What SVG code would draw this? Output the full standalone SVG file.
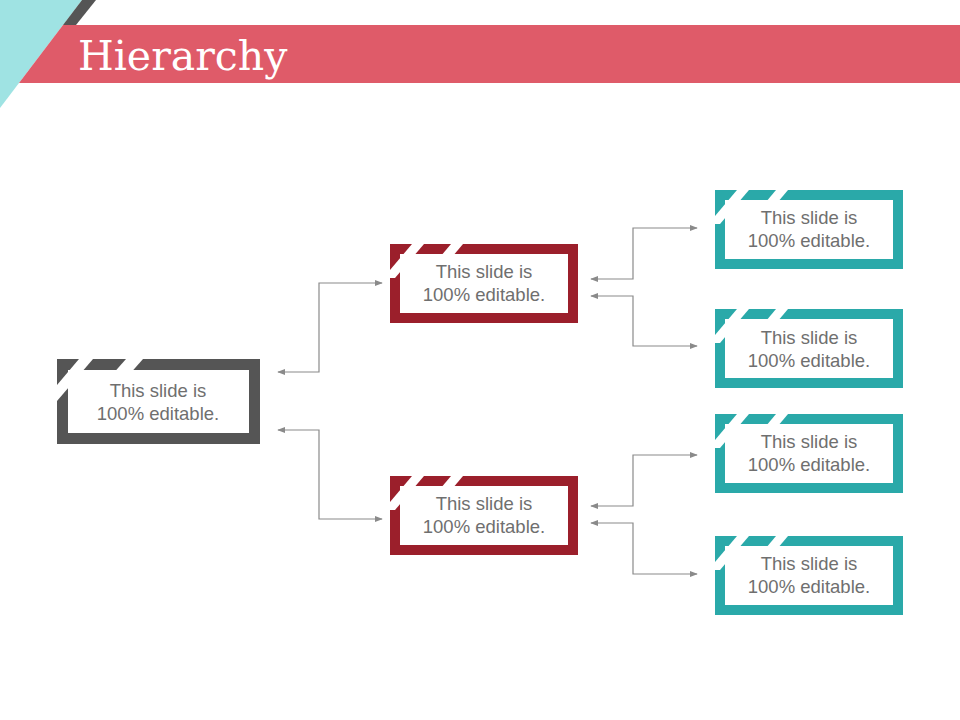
<svg xmlns="http://www.w3.org/2000/svg" width="960" height="720" viewBox="0 0 960 720">
<defs>
<style>
.t{font-family:"Liberation Sans",Arial,sans-serif;font-size:18.5px;fill:#6f6f6f;text-anchor:middle}
.c{fill:none;stroke:#8a8a8a;stroke-width:1.2}
.w{fill:#fff}
</style>
<marker id="a" viewBox="0 0 10 10" refX="9" refY="5" markerWidth="8" markerHeight="8" orient="auto-start-reverse" markerUnits="userSpaceOnUse"><path d="M0,1L10,5L0,9z" fill="#8a8a8a"/></marker>
</defs>
<rect width="960" height="720" fill="#fff"/>
<polygon points="0,0 82,0 0,108" fill="#9fe3e3"/>
<polygon points="63,25 960,25 960,83 19,83" fill="#df5b69"/>
<polygon points="82,0 96,0 76,25 63,25" fill="#555"/>
<text x="78" y="70" font-family="Georgia,'DejaVu Serif','Liberation Serif',serif" font-size="41" fill="#fff">Hierarchy</text>
<g id="connectors">
<path class="c" d="M278,372H319V283H382" marker-start="url(#a)" marker-end="url(#a)"/>
<path class="c" d="M278,430H319V519H382" marker-start="url(#a)" marker-end="url(#a)"/>
<path class="c" d="M591,279H633V228H697" marker-start="url(#a)" marker-end="url(#a)"/>
<path class="c" d="M591,296H633V346H697" marker-start="url(#a)" marker-end="url(#a)"/>
<path class="c" d="M591,506H633V455H697" marker-start="url(#a)" marker-end="url(#a)"/>
<path class="c" d="M591,523H633V574H697" marker-start="url(#a)" marker-end="url(#a)"/>
</g>
<g id="root">
<rect x="57" y="359" width="203" height="85" fill="#555"/>
<rect x="68" y="370" width="181" height="63" class="w"/>
<polygon class="w" points="79,359 93,359 57,401 57,385"/>
<polygon class="w" points="126,359 143,359 128,376 111,376"/>
<text class="t" x="158" y="397">This slide is</text><text class="t" x="158" y="420">100% editable.</text>
</g>
<g id="mid1">
<rect x="390" y="244" width="188" height="79" fill="#9b1f2b"/>
<rect x="400" y="254" width="168" height="59" class="w"/>
<polygon class="w" points="412,244 424,244 395,278 390,278 390,270"/>
<polygon class="w" points="451,244 463,244 447,263 435,263"/>
<text class="t" x="484" y="278">This slide is</text><text class="t" x="484" y="301">100% editable.</text>
</g>
<g id="mid2">
<rect x="390" y="476" width="188" height="79" fill="#9b1f2b"/>
<rect x="400" y="486" width="168" height="59" class="w"/>
<polygon class="w" points="412,476 424,476 395,510 390,510 390,502"/>
<polygon class="w" points="451,476 463,476 447,495 435,495"/>
<text class="t" x="484" y="510">This slide is</text><text class="t" x="484" y="533">100% editable.</text>
</g>
<g id="leaf1">
<rect x="715" y="190" width="188" height="79" fill="#2aa9a9"/>
<rect x="725" y="200" width="168" height="59" class="w"/>
<polygon class="w" points="737,190 749,190 720,224 715,224 715,216"/>
<polygon class="w" points="776,190 788,190 772,209 760,209"/>
<text class="t" x="809" y="224">This slide is</text><text class="t" x="809" y="247">100% editable.</text>
</g>
<g id="leaf2">
<rect x="715" y="309" width="188" height="79" fill="#2aa9a9"/>
<rect x="725" y="319" width="168" height="59" class="w"/>
<polygon class="w" points="737,309 749,309 720,343 715,343 715,335"/>
<polygon class="w" points="776,309 788,309 772,328 760,328"/>
<text class="t" x="809" y="344">This slide is</text><text class="t" x="809" y="367">100% editable.</text>
</g>
<g id="leaf3">
<rect x="715" y="414" width="188" height="79" fill="#2aa9a9"/>
<rect x="725" y="424" width="168" height="59" class="w"/>
<polygon class="w" points="737,414 749,414 720,448 715,448 715,440"/>
<polygon class="w" points="776,414 788,414 772,433 760,433"/>
<text class="t" x="809" y="448">This slide is</text><text class="t" x="809" y="471">100% editable.</text>
</g>
<g id="leaf4">
<rect x="715" y="536" width="188" height="79" fill="#2aa9a9"/>
<rect x="725" y="546" width="168" height="59" class="w"/>
<polygon class="w" points="737,536 749,536 720,570 715,570 715,562"/>
<polygon class="w" points="776,536 788,536 772,555 760,555"/>
<text class="t" x="809" y="570">This slide is</text><text class="t" x="809" y="593">100% editable.</text>
</g>
</svg>
